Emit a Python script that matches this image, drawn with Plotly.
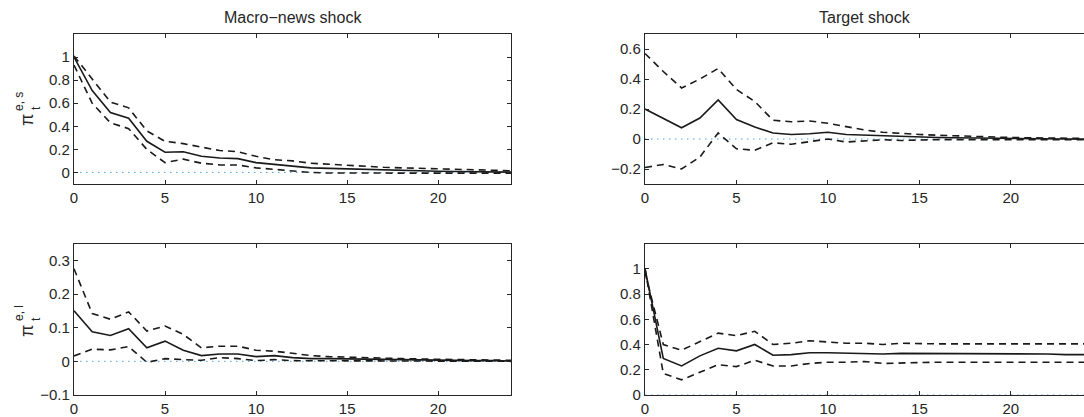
import plotly.graph_objects as go

t = list(range(25))

# Panel 1: Macro-news shock, pi^{e,s}
macro_s_mid = [1.0, 0.71, 0.52, 0.47, 0.27, 0.175, 0.18, 0.14, 0.125, 0.12, 0.085, 0.07, 0.05,
               0.04, 0.035, 0.03, 0.025, 0.02, 0.015, 0.012, 0.01, 0.008, 0.006, 0.004, 0.003]
macro_s_up = [1.01, 0.81, 0.61, 0.56, 0.36, 0.27, 0.25, 0.22, 0.19, 0.18, 0.14, 0.11, 0.10,
              0.08, 0.07, 0.06, 0.055, 0.045, 0.04, 0.035, 0.03, 0.025, 0.02, 0.02, 0.015]
macro_s_lo = [0.93, 0.60, 0.43, 0.38, 0.20, 0.085, 0.115, 0.08, 0.065, 0.065, 0.04, 0.025, 0.01,
              0.0, -0.005, -0.005, -0.005, -0.005, -0.005, -0.005, -0.005, -0.005, -0.006, -0.006, -0.006]

# Panel 2: Target shock, pi^{e,s}
target_s_mid = [0.2, 0.14, 0.075, 0.14, 0.26, 0.13, 0.08, 0.04, 0.03, 0.035, 0.045, 0.03, 0.025,
                0.02, 0.015, 0.013, 0.01, 0.008, 0.006, 0.005, 0.003, 0.002, 0.001, 0.0, -0.001]
target_s_up = [0.57, 0.45, 0.34, 0.40, 0.47, 0.33, 0.25, 0.125, 0.115, 0.12, 0.105, 0.08, 0.06,
               0.045, 0.035, 0.03, 0.025, 0.02, 0.015, 0.012, 0.01, 0.008, 0.006, 0.005, 0.004]
target_s_lo = [-0.19, -0.17, -0.20, -0.12, 0.04, -0.065, -0.075, -0.025, -0.035, -0.02, 0.0, -0.02, -0.01,
               -0.005, -0.01, -0.005, -0.004, -0.004, -0.004, -0.004, -0.004, -0.005, -0.005, -0.005, -0.005]

# Panel 3: Macro-news shock, pi^{e,l}
macro_l_mid = [0.15, 0.088, 0.077, 0.097, 0.04, 0.06, 0.033, 0.017, 0.022, 0.022, 0.014, 0.017, 0.011,
               0.008, 0.008, 0.007, 0.006, 0.005, 0.004, 0.003, 0.003, 0.002, 0.002, 0.002, 0.001]
macro_l_up = [0.275, 0.142, 0.125, 0.147, 0.09, 0.105, 0.08, 0.04, 0.045, 0.045, 0.033, 0.03, 0.024,
              0.017, 0.014, 0.012, 0.011, 0.01, 0.008, 0.007, 0.006, 0.005, 0.004, 0.004, 0.003]
macro_l_lo = [0.016, 0.036, 0.034, 0.044, -0.003, 0.008, 0.005, 0.003, 0.011, 0.008, 0.002, 0.005, 0.002,
              0.002, 0.002, 0.001, 0.0, 0.0, 0.0, 0.0, 0.0, 0.0, 0.0, 0.0, 0.0]

# Panel 4: Target shock, pi^{e,l}
target_l_mid = [1.0, 0.29, 0.23, 0.31, 0.37, 0.35, 0.40, 0.315, 0.32, 0.335, 0.335, 0.33, 0.33,
                0.325, 0.33, 0.33, 0.33, 0.33, 0.33, 0.33, 0.33, 0.33, 0.325, 0.32, 0.32]
target_l_up = [0.97, 0.40, 0.355, 0.42, 0.49, 0.47, 0.505, 0.40, 0.41, 0.43, 0.42, 0.41, 0.41,
               0.40, 0.41, 0.405, 0.405, 0.405, 0.405, 0.405, 0.405, 0.405, 0.405, 0.405, 0.405]
target_l_lo = [1.0, 0.17, 0.12, 0.18, 0.24, 0.225, 0.275, 0.23, 0.23, 0.25, 0.26, 0.26, 0.265,
               0.25, 0.255, 0.26, 0.26, 0.26, 0.26, 0.26, 0.26, 0.26, 0.26, 0.26, 0.26]

titles = ["Macro\u2212news shock", "Target shock"]
x_ticks = [0, 5, 10, 15, 20]

panels = [
    dict(mid=macro_s_mid, up=macro_s_up, lo=macro_s_lo,
         yr=[-0.1, 1.2], yt=[0, 0.2, 0.4, 0.6, 0.8, 1]),
    dict(mid=target_s_mid, up=target_s_up, lo=target_s_lo,
         yr=[-0.3, 0.7], yt=[-0.2, 0, 0.2, 0.4, 0.6]),
    dict(mid=macro_l_mid, up=macro_l_up, lo=macro_l_lo,
         yr=[-0.1, 0.35], yt=[-0.1, 0, 0.1, 0.2, 0.3]),
    dict(mid=target_l_mid, up=target_l_up, lo=target_l_lo,
         yr=[0, 1.2], yt=[0, 0.2, 0.4, 0.6, 0.8, 1]),
]

W, H = 1084, 417
ML, MR, MT, MB = 74, 0, 34, 22
PW, PH = W - ML - MR, H - MT - MB

def px_x(px):
    return (px - ML) / PW

def px_y(py):
    return (H - MB - py) / PH

xdom = [[0, px_x(511)], [px_x(645), 1.0]]
ydom = [[px_y(184), 1.0], [0, px_y(243.5)]]

fig = go.Figure()
font = dict(family="Liberation Sans, Arial, sans-serif", size=15, color="#262626")
DASH = "7px,5px"

for i, p in enumerate(panels):
    sfx = "" if i == 0 else str(i + 1)
    xa, ya = "x" + sfx, "y" + sfx
    zero = [0 for _ in t]
    fig.add_trace(go.Scatter(x=t, y=zero, mode="lines", xaxis=xa, yaxis=ya,
                             line=dict(color="#4da6e0", width=1, dash="1.5px,4.5px"), hoverinfo="skip"))
    fig.add_trace(go.Scatter(x=t, y=p["up"], mode="lines", xaxis=xa, yaxis=ya,
                             line=dict(color="#1a1a1a", width=1.6, dash=DASH)))
    fig.add_trace(go.Scatter(x=t, y=p["lo"], mode="lines", xaxis=xa, yaxis=ya,
                             line=dict(color="#1a1a1a", width=1.6, dash=DASH)))
    fig.add_trace(go.Scatter(x=t, y=p["mid"], mode="lines", xaxis=xa, yaxis=ya,
                             line=dict(color="#1a1a1a", width=1.6)))

axis_common = dict(showgrid=False, zeroline=False, showline=True, linecolor="#262626",
                   linewidth=1.2, mirror="ticks", ticks="inside", ticklen=4, tickwidth=1,
                   tickcolor="#262626", tickfont=font)

layout = dict(width=W, height=H, margin=dict(l=ML, r=MR, t=MT, b=MB),
              plot_bgcolor="white", paper_bgcolor="white", showlegend=False, font=font)

for i, p in enumerate(panels):
    col = i % 2
    row = i // 2
    sfx = "" if i == 0 else str(i + 1)
    ttext = [("%g" % v).replace("-", "\u2212") for v in p["yt"]]
    layout["xaxis" + sfx] = dict(axis_common, domain=xdom[col], range=[0, 24],
                                 tickvals=x_ticks, anchor="y" + sfx)
    ycfg = dict(axis_common, domain=ydom[row], range=p["yr"],
                tickvals=p["yt"], ticktext=ttext, anchor="x" + sfx)
    if col == 1:
        # right border lies beyond the page edge: only the mirrored ticks show
        ycfg["mirror"] = False
        layout["yaxis" + str(i + 5)] = dict(overlaying="y" + sfx, anchor="x" + sfx, side="right",
                                            range=p["yr"], tickvals=p["yt"], ticks="inside",
                                            ticklen=4, tickwidth=1, tickcolor="#262626",
                                            showticklabels=False, showline=False,
                                            showgrid=False, zeroline=False)
    layout["yaxis" + sfx] = ycfg

fig.update_layout(**layout)

annotations = []
for col in range(2):
    cx = (xdom[col][0] + xdom[col][1]) / 2
    annotations.append(dict(text=titles[col], x=cx, y=px_y(17), xref="paper", yref="paper",
                            showarrow=False, font=dict(font, size=16), xanchor="center", yanchor="middle"))

# y-axis labels: pi with stacked superscript / subscript (rotated)
for (cy, sup) in [(109, "e, s"), (320, "e, l")]:
    annotations.append(dict(text="\u03c0", x=px_x(27), y=px_y(cy + 11), xref="paper", yref="paper",
                            showarrow=False, textangle=-90, font=dict(font, size=18),
                            xanchor="center", yanchor="middle"))
    annotations.append(dict(text="t", x=px_x(36), y=px_y(cy - 1), xref="paper", yref="paper",
                            showarrow=False, textangle=-90, font=dict(font, size=12),
                            xanchor="center", yanchor="middle"))
    annotations.append(dict(text=sup, x=px_x(19), y=px_y(cy - 7), xref="paper", yref="paper",
                            showarrow=False, textangle=-90, font=dict(font, size=12),
                            xanchor="center", yanchor="middle"))

fig.update_layout(annotations=annotations)

fig.write_html("out.html", config={"displayModeBar": False},
               post_script="document.body.style.margin='0';document.body.style.overflow='hidden';")
